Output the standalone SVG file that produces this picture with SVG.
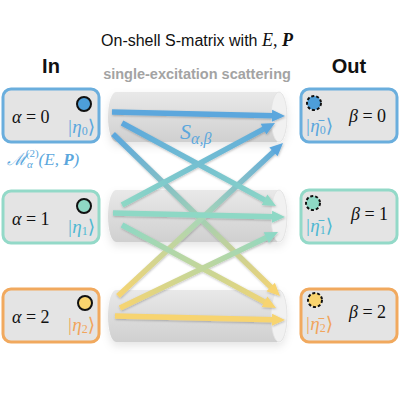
<svg xmlns="http://www.w3.org/2000/svg" width="400" height="400" viewBox="0 0 400 400">
<style>
.box{fill:#e4e4e4;stroke-width:3}
.lbl{font-family:"Liberation Serif","DejaVu Serif",serif;font-size:18px;fill:#111}
.ket{font-family:"Liberation Serif","DejaVu Serif",serif;font-size:19px;font-style:italic}
.sub{font-style:normal;font-size:12px}
.shaft{stroke-width:5.5;fill:none;stroke-linecap:butt}
.cyl{fill:url(#cylg)}
.cap{fill:#f1f1f1;stroke:#e2e2e2;stroke-width:0.8}
</style>
<defs>
<linearGradient id="cylg" x1="0" y1="0" x2="0" y2="1">
<stop offset="0" stop-color="#e9e9e9"/><stop offset="0.5" stop-color="#dcdcdc"/><stop offset="1" stop-color="#d0d0d0"/>
</linearGradient>
<filter id="sh" x="-10%" y="-20%" width="120%" height="150%">
<feDropShadow dx="0" dy="4" stdDeviation="4" flood-color="#000" flood-opacity="0.1"/>
</filter>
<filter id="ash" x="-10%" y="-10%" width="120%" height="120%">
<feDropShadow dx="0.5" dy="1" stdDeviation="1" flood-color="#000" flood-opacity="0.25"/>
</filter>
<linearGradient id="g1" gradientUnits="userSpaceOnUse" x1="112" y1="112" x2="285" y2="116"><stop offset="0" stop-color="#5ba7dd"/><stop offset="1" stop-color="#5ba7dd"/></linearGradient>
<linearGradient id="g2" gradientUnits="userSpaceOnUse" x1="122" y1="123" x2="276" y2="206"><stop offset="0" stop-color="#5ba7dd"/><stop offset="1" stop-color="#8ed8c5"/></linearGradient>
<linearGradient id="g3" gradientUnits="userSpaceOnUse" x1="113" y1="134" x2="280" y2="296"><stop offset="0" stop-color="#5ba7dd"/><stop offset="0.5" stop-color="#9fcfb7"/><stop offset="1" stop-color="#f7d470"/></linearGradient>
<linearGradient id="g4" gradientUnits="userSpaceOnUse" x1="122" y1="205" x2="275" y2="123"><stop offset="0" stop-color="#8ed8c5"/><stop offset="1" stop-color="#5ba7dd"/></linearGradient>
<linearGradient id="g5" gradientUnits="userSpaceOnUse" x1="113" y1="213" x2="285" y2="217"><stop offset="0" stop-color="#8ed8c5"/><stop offset="1" stop-color="#8ed8c5"/></linearGradient>
<linearGradient id="g6" gradientUnits="userSpaceOnUse" x1="122" y1="225" x2="276" y2="308"><stop offset="0" stop-color="#8ed8c5"/><stop offset="1" stop-color="#f7d470"/></linearGradient>
<linearGradient id="g7" gradientUnits="userSpaceOnUse" x1="118" y1="296" x2="283" y2="143"><stop offset="0" stop-color="#f7d470"/><stop offset="0.5" stop-color="#a9d6b6"/><stop offset="1" stop-color="#5ba7dd"/></linearGradient>
<linearGradient id="g8" gradientUnits="userSpaceOnUse" x1="120" y1="308" x2="278" y2="232"><stop offset="0" stop-color="#f7d470"/><stop offset="1" stop-color="#8ed8c5"/></linearGradient>
<linearGradient id="g9" gradientUnits="userSpaceOnUse" x1="115" y1="316" x2="285" y2="320"><stop offset="0" stop-color="#f7d470"/><stop offset="1" stop-color="#f7d470"/></linearGradient>
</defs>
<rect width="400" height="400" fill="#fff"/>

<text x="197" y="46" text-anchor="middle" font-family="Liberation Sans,Arial,sans-serif" font-size="16" fill="#111">On-shell S-matrix with <tspan font-family="Liberation Serif,serif" font-style="italic" font-size="18">E</tspan><tspan font-family="Liberation Serif,serif" font-size="18">, </tspan><tspan font-family="Liberation Serif,serif" font-style="italic" font-weight="bold" font-size="18">P</tspan></text>
<text x="51" y="73" text-anchor="middle" font-family="Liberation Sans,Arial,sans-serif" font-size="20" font-weight="bold" fill="#111">In</text>
<text x="349" y="73" text-anchor="middle" font-family="Liberation Sans,Arial,sans-serif" font-size="20" font-weight="bold" fill="#111">Out</text>
<text x="197" y="79" text-anchor="middle" font-family="Liberation Sans,Arial,sans-serif" font-size="14.5" font-weight="bold" fill="#a3a3a3">single-excitation scattering</text>

<g id="cylinders" filter="url(#sh)">
<path class="cyl" d="M116,92 L279,92 A8,25 0 0 1 279,142 L116,142 A8,25 0 0 1 116,92 Z"/>
<ellipse class="cap" cx="279" cy="117" rx="8" ry="25"/>
<path class="cyl" d="M116,190 L279,190 A8,26 0 0 1 279,242 L116,242 A8,26 0 0 1 116,190 Z"/>
<ellipse class="cap" cx="279" cy="216" rx="8" ry="26"/>
<path class="cyl" d="M116,290 L279,290 A8,26 0 0 1 279,342 L116,342 A8,26 0 0 1 116,290 Z"/>
<ellipse class="cap" cx="279" cy="316" rx="8" ry="26"/>
</g>

<g id="connectors" filter="url(#ash)">
<line class="shaft" stroke="url(#g3)" x1="113" y1="134" x2="272.1" y2="288.3"/>
<polygon fill="#f7d470" points="280,296 266.49,291.26 274.85,282.64"/>
<line class="shaft" stroke="url(#g7)" x1="118" y1="296" x2="274.9" y2="150.5"/>
<polygon fill="#5ba7dd" points="283,143 277.55,156.24 269.39,147.44"/>
<line class="shaft" stroke="url(#g2)" x1="122" y1="123" x2="266.3" y2="200.8"/>
<polygon fill="#8ed8c5" points="276,206 261.71,205.11 267.41,194.55"/>
<line class="shaft" stroke="url(#g4)" x1="122" y1="205" x2="265.3" y2="128.2"/>
<polygon fill="#5ba7dd" points="275,123 266.37,134.43 260.71,123.85"/>
<line class="shaft" stroke="url(#g6)" x1="122" y1="225" x2="266.3" y2="302.8"/>
<polygon fill="#f7d470" points="276,308 261.71,307.11 267.41,296.55"/>
<line class="shaft" stroke="url(#g8)" x1="120" y1="308" x2="268.1" y2="236.8"/>
<polygon fill="#8ed8c5" points="278,232 268.88,243.05 263.68,232.23"/>
<line class="shaft" stroke="url(#g1)" x1="112" y1="112" x2="274" y2="115.75"/>
<polygon fill="#5ba7dd" points="285,116 271.86,121.7 272.14,109.7"/>
<line class="shaft" stroke="url(#g5)" x1="113" y1="213" x2="274" y2="216.75"/>
<polygon fill="#8ed8c5" points="285,217 271.86,222.7 272.14,210.7"/>
<line class="shaft" stroke="url(#g9)" x1="115" y1="316" x2="274" y2="319.75"/>
<polygon fill="#f7d470" points="285,320 271.86,325.7 272.14,313.7"/>
</g>

<text x="180" y="139" font-family="Liberation Serif,serif" font-style="italic" font-size="22" fill="#5ba7dd">S<tspan font-size="16" dy="5">α,β</tspan></text>

<g id="in0">
<rect class="box" x="3" y="89" width="96" height="53" rx="8" stroke="#6aaedd"/>
<text class="lbl" x="12" y="123"><tspan font-style="italic">α</tspan> = 0</text>
<circle cx="84" cy="104" r="7" fill="#4d9ed9" stroke="#111" stroke-width="2"/>
<text class="ket" x="67" y="133" fill="#5ba7dd">|η<tspan class="sub" dy="2">0</tspan><tspan dy="-2" font-style="normal">⟩</tspan></text>
</g>
<text x="7" y="165" font-family="Liberation Serif,DejaVu Serif,serif" font-style="italic" font-size="17" fill="#5ba7dd">ℳ<tspan font-size="11" dy="3">α</tspan><tspan font-size="11" font-style="normal" dx="-7" dy="-11">(2)</tspan><tspan dy="8">(E, </tspan><tspan font-weight="bold">P</tspan>)</text>

<g id="in1">
<rect class="box" x="3" y="191" width="96" height="52" rx="8" stroke="#93d9c8"/>
<text class="lbl" x="12" y="225"><tspan font-style="italic">α</tspan> = 1</text>
<circle cx="84" cy="206" r="7" fill="#8ed8c5" stroke="#111" stroke-width="2"/>
<text class="ket" x="67" y="233" fill="#4fb8d2">|η<tspan class="sub" dy="2">1</tspan><tspan dy="-2" font-style="normal">⟩</tspan></text>
</g>

<g id="in2">
<rect class="box" x="3" y="289" width="96" height="53" rx="8" stroke="#f1a95e"/>
<text class="lbl" x="12" y="323"><tspan font-style="italic">α</tspan> = 2</text>
<circle cx="85" cy="303" r="7" fill="#f9d46e" stroke="#111" stroke-width="2"/>
<text class="ket" x="67" y="331" fill="#f1a55c">|η<tspan class="sub" dy="2">2</tspan><tspan dy="-2" font-style="normal">⟩</tspan></text>
</g>

<g id="out0">
<rect class="box" x="301" y="89" width="96" height="53" rx="8" stroke="#6aaedd"/>
<circle cx="314" cy="103" r="7" fill="#4d9ed9" stroke="#111" stroke-width="2" stroke-dasharray="3,2"/>
<text class="ket" x="305" y="132" fill="#5ba7dd">|η̄<tspan class="sub" dy="2">0</tspan><tspan dy="-2" font-style="normal">⟩</tspan></text>
<text class="lbl" x="349" y="122"><tspan font-style="italic">β</tspan> = 0</text>
</g>

<g id="out1">
<rect class="box" x="301" y="190" width="96" height="53" rx="8" stroke="#93d9c8"/>
<circle cx="313" cy="203" r="7" fill="#8ed8c5" stroke="#111" stroke-width="2" stroke-dasharray="3,2"/>
<text class="ket" x="305" y="232" fill="#4fb8d2">|η̄<tspan class="sub" dy="2">1</tspan><tspan dy="-2" font-style="normal">⟩</tspan></text>
<text class="lbl" x="351" y="220"><tspan font-style="italic">β</tspan> = 1</text>
</g>

<g id="out2">
<rect class="box" x="301" y="289" width="96" height="53" rx="8" stroke="#f1a95e"/>
<circle cx="315" cy="300" r="7" fill="#f9d46e" stroke="#111" stroke-width="2" stroke-dasharray="3,2"/>
<text class="ket" x="305" y="330" fill="#f1a55c">|η̄<tspan class="sub" dy="2">2</tspan><tspan dy="-2" font-style="normal">⟩</tspan></text>
<text class="lbl" x="349" y="318"><tspan font-style="italic">β</tspan> = 2</text>
</g>
</svg>
